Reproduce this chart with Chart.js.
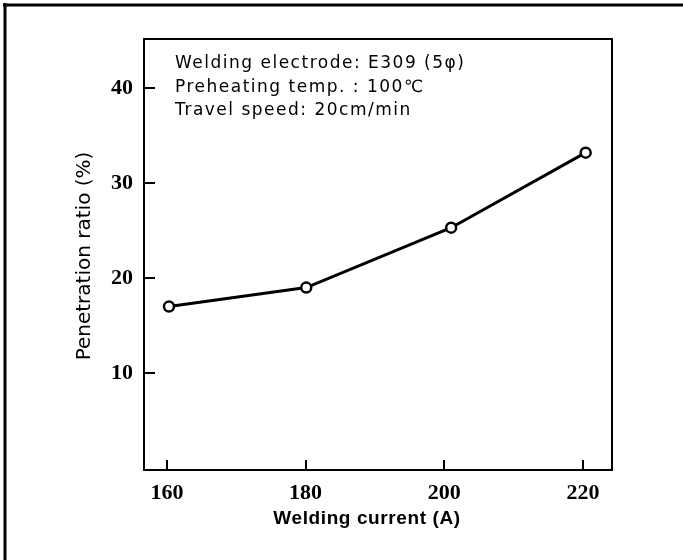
<!DOCTYPE html>
<html><head><meta charset="utf-8">
<script src="https://cdn.jsdelivr.net/npm/chart.js@4/dist/chart.umd.min.js"></script>
<style>html,body{margin:0;padding:0;background:#fff}canvas{display:block}</style>
</head><body>
<canvas id="c" width="683" height="560"></canvas>
<script>
const currents = [160.3, 180.1, 201.0, 220.4];
const ratios = [17.0, 19.0, 25.3, 33.2];
const xTicks = [160, 180, 200, 220];
const yTicks = [10, 20, 30, 40];
const xTitle = 'Welding current (A)';
const yTitle = 'Penetration ratio (%)';
const notes = ['Welding electrode: E309 (5φ)', 'Preheating temp. : 100℃', 'Travel speed: 20cm/min'];

const points = currents.map((x, i) => ({x: x, y: ratios[i]}));

const decor = {
  id: 'decor',
  afterDraw(chart) {
    const ctx = chart.ctx;
    const a = chart.chartArea;
    const xs = chart.scales.x, ys = chart.scales.y;
    ctx.save();
    ctx.strokeStyle = '#000';
    // outer page frame (top and left)
    ctx.lineWidth = 3;
    ctx.beginPath();
    ctx.moveTo(3, 5); ctx.lineTo(683, 5);
    ctx.moveTo(5, 3); ctx.lineTo(5, 560);
    ctx.stroke();
    // plot box
    ctx.lineWidth = 2;
    ctx.strokeRect(a.left, a.top, a.right - a.left, a.bottom - a.top);
    // inward ticks
    ctx.beginPath();
    xTicks.forEach(v => {
      const px = Math.round(xs.getPixelForValue(v));
      ctx.moveTo(px, a.bottom); ctx.lineTo(px, a.bottom - 10);
    });
    yTicks.forEach(v => {
      const py = Math.round(ys.getPixelForValue(v));
      ctx.moveTo(a.left, py); ctx.lineTo(a.left + 11, py);
    });
    ctx.stroke();
    // annotation
    ctx.fillStyle = '#000';
    ctx.textAlign = 'left';
    ctx.textBaseline = 'middle';
    ctx.font = '17px "DejaVu Sans"';
    try { ctx.letterSpacing = '1.5px'; } catch (e) {}
    notes.forEach((t, i) => ctx.fillText(t, 175, 64 + i * 23.5));
    // x title
    ctx.textAlign = 'center';
    ctx.font = 'bold 19px "Liberation Sans"';
    try { ctx.letterSpacing = '0.6px'; } catch (e) {}
    ctx.fillText(xTitle, 367, 519);
    // y title
    try { ctx.letterSpacing = '0px'; } catch (e) {}
    ctx.font = '20px "DejaVu Sans"';
    ctx.translate(85, 256);
    ctx.rotate(-Math.PI / 2);
    ctx.fillText(yTitle, 0, 0);
    ctx.restore();
  }
};

new Chart(document.getElementById('c'), {
  type: 'line',
  data: {
    datasets: [{
      data: points,
      borderColor: '#000',
      borderWidth: 3,
      backgroundColor: '#fff',
      pointBackgroundColor: '#fff',
      pointBorderColor: '#000',
      pointBorderWidth: 2.5,
      pointRadius: 5,
      tension: 0,
      fill: false
    }]
  },
  options: {
    responsive: false,
    animation: false,
    devicePixelRatio: 1,
    layout: {padding: {left: 0, right: 71, top: 39, bottom: 0}},
    plugins: {legend: {display: false}, tooltip: {enabled: false}},
    scales: {
      x: {
        type: 'linear',
        min: 156.7,
        max: 224.2,
        afterBuildTicks: s => { s.ticks = xTicks.map(v => ({value: v})); },
        afterFit: s => { s.height = 90; },
        grid: {display: false, drawTicks: false},
        border: {display: false},
        ticks: {color: '#000', padding: 10, maxRotation: 0, autoSkip: false,
          font: {family: '"Liberation Serif"', weight: 'bold', size: 22}}
      },
      y: {
        type: 'linear',
        min: -0.2,
        max: 45.16,
        afterBuildTicks: s => { s.ticks = yTicks.map(v => ({value: v})); },
        afterFit: s => { s.width = 144; },
        grid: {display: false, drawTicks: false},
        border: {display: false},
        ticks: {color: '#000', padding: 11, autoSkip: false,
          font: {family: '"Liberation Serif"', weight: 'bold', size: 22}}
      }
    }
  },
  plugins: [decor]
});
</script>
</body></html>
